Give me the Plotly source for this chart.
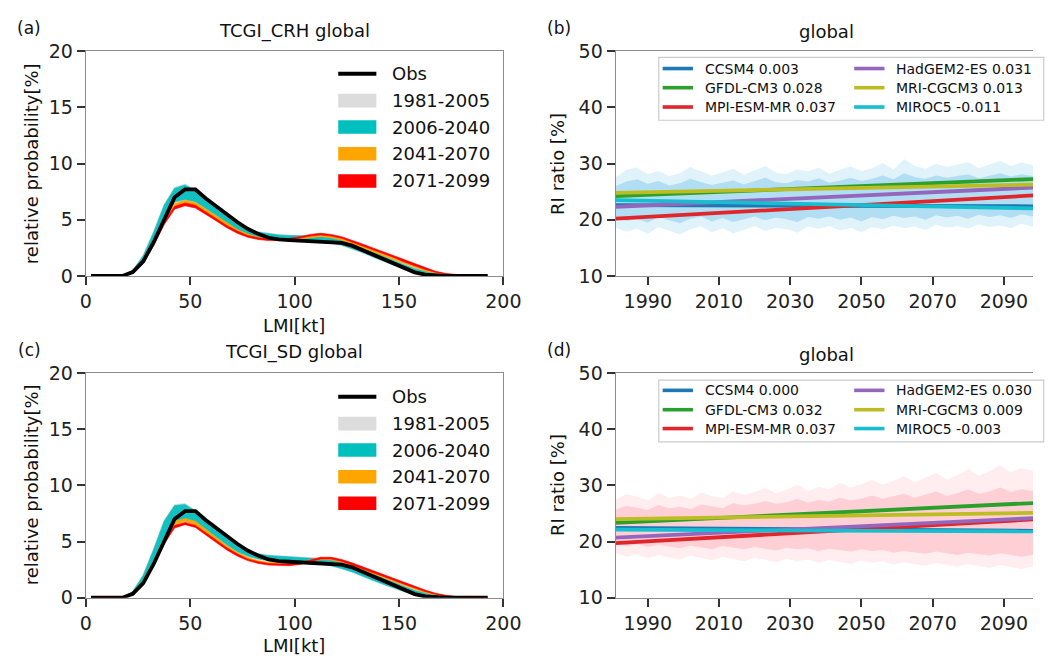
import plotly.graph_objects as go

W, H = 1051, 667

# ---------------- data: panels (a) and (c) ----------------
kt = [2.5, 7.5, 12.5, 17.5, 22.5, 27.5, 32.5, 37.5, 42.5, 47.5, 52.5, 57.5, 62.5,
      67.5, 72.5, 77.5, 82.5, 87.5, 92.5, 97.5, 102.5, 107.5, 112.5, 117.5, 122.5,
      127.5, 132.5, 137.5, 142.5, 147.5, 152.5, 157.5, 162.5, 167.5, 172.5, 177.5,
      182.5, 187.5, 192.5]

obs = [0, 0, 0, 0, 0.35, 1.3, 3.0, 5.0, 7.0, 7.7, 7.7, 6.9, 6.2, 5.4, 4.8, 4.2, 3.75,
       3.4, 3.25, 3.2, 3.15, 3.05, 3.0, 3.0, 2.95, 2.7, 2.3, 1.9, 1.45, 1.05, 0.65,
       0.32, 0.12, 0.03, 0, 0, 0, 0, 0]

# (a) TCGI_CRH
a_grey_lo = [0, 0, 0, 0, 0.28, 1.25, 2.95, 4.95, 6.5, 6.75, 6.55, 5.95, 5.35, 4.65, 4.05, 3.65,
             3.4, 3.25, 3.2, 3.15, 3.1, 3.05, 3.0, 2.9, 2.7, 2.4, 2.05, 1.65, 1.25, 0.9, 0.55,
             0.28, 0.1, 0.03, 0.01, 0, 0, 0, 0]
a_grey_hi = [0, 0, 0, 0, 0.55, 1.9, 4.0, 6.4, 7.9, 8.2, 7.7, 7.0, 6.3, 5.5, 4.85, 4.25,
             3.95, 3.8, 3.7, 3.65, 3.62, 3.58, 3.52, 3.42, 3.22, 2.92, 2.58, 2.18, 1.78,
             1.42, 1.02, 0.67, 0.42, 0.21, 0.09, 0.04, 0.01, 0, 0]
a_teal_lo = [0, 0, 0, 0, 0.3, 1.3, 3.0, 5.0, 6.6, 6.8, 6.6, 6.0, 5.4, 4.7, 4.1, 3.7,
             3.45, 3.3, 3.25, 3.2, 3.15, 3.1, 3.05, 2.95, 2.75, 2.45, 2.1, 1.7, 1.3, 0.95,
             0.6, 0.3, 0.12, 0.04, 0.01, 0, 0, 0, 0]
a_teal_hi = [0, 0, 0, 0, 0.5, 1.8, 3.9, 6.3, 7.8, 8.1, 7.6, 6.9, 6.2, 5.4, 4.8, 4.2,
             3.9, 3.75, 3.65, 3.6, 3.6, 3.55, 3.5, 3.4, 3.2, 2.9, 2.55, 2.15, 1.75, 1.4,
             1.0, 0.65, 0.4, 0.2, 0.08, 0.03, 0, 0, 0]
a_orange_lo = [0, 0, 0, 0, 0.3, 1.2, 2.9, 4.8, 6.2, 6.5, 6.3, 5.7, 5.1, 4.5, 3.95, 3.55,
               3.3, 3.2, 3.15, 3.15, 3.25, 3.4, 3.5, 3.4, 3.2, 2.9, 2.55, 2.2, 1.85, 1.5,
               1.1, 0.75, 0.45, 0.25, 0.12, 0.05, 0.02, 0, 0]
a_orange_hi = [0, 0, 0, 0, 0.4, 1.4, 3.1, 5.1, 6.45, 6.75, 6.55, 5.95, 5.35, 4.75, 4.15,
               3.75, 3.45, 3.35, 3.3, 3.3, 3.4, 3.55, 3.65, 3.55, 3.35, 3.05, 2.7, 2.35,
               2.0, 1.65, 1.25, 0.9, 0.6, 0.35, 0.18, 0.09, 0.04, 0.01, 0]
a_red_lo = [0, 0, 0, 0, 0.25, 1.1, 2.7, 4.55, 5.95, 6.25, 6.05, 5.5, 4.9, 4.3, 3.8, 3.45,
            3.25, 3.15, 3.15, 3.2, 3.35, 3.55, 3.65, 3.55, 3.35, 3.05, 2.7, 2.35, 2.0,
            1.65, 1.25, 0.9, 0.58, 0.32, 0.16, 0.07, 0.03, 0.01, 0]
a_red_hi = [0, 0, 0, 0, 0.35, 1.3, 2.9, 4.8, 6.2, 6.5, 6.3, 5.7, 5.1, 4.5, 4.0, 3.6,
            3.4, 3.3, 3.3, 3.35, 3.5, 3.7, 3.8, 3.7, 3.5, 3.2, 2.85, 2.5, 2.15, 1.8,
            1.4, 1.05, 0.7, 0.42, 0.22, 0.11, 0.05, 0.02, 0]

# (c) TCGI_SD
c_grey_lo = [0, 0, 0, 0, 0.28, 1.25, 3.05, 5.15, 6.7, 6.85, 6.65, 6.05, 5.35, 4.65, 4.05,
             3.65, 3.4, 3.25, 3.2, 3.15, 3.1, 3.05, 2.95, 2.8, 2.55, 2.25, 1.9, 1.5, 1.15,
             0.8, 0.5, 0.25, 0.08, 0.02, 0.01, 0, 0, 0, 0]
c_grey_hi = [0, 0, 0, 0, 0.6, 2.1, 4.4, 6.9, 8.3, 8.4, 7.8, 7.1, 6.4, 5.6, 4.85, 4.25,
             3.95, 3.8, 3.75, 3.7, 3.65, 3.6, 3.55, 3.45, 3.25, 2.95, 2.6, 2.2, 1.8, 1.45,
             1.05, 0.7, 0.45, 0.22, 0.09, 0.04, 0.01, 0, 0]
c_teal_lo = [0, 0, 0, 0, 0.3, 1.3, 3.1, 5.2, 6.8, 6.9, 6.7, 6.1, 5.4, 4.7, 4.1, 3.7,
             3.45, 3.3, 3.25, 3.2, 3.15, 3.1, 3.0, 2.85, 2.6, 2.3, 1.95, 1.55, 1.2, 0.85,
             0.55, 0.28, 0.1, 0.03, 0.01, 0, 0, 0, 0]
c_teal_hi = [0, 0, 0, 0, 0.55, 2.0, 4.3, 6.8, 8.2, 8.3, 7.7, 7.0, 6.3, 5.5, 4.8, 4.2,
             3.9, 3.75, 3.7, 3.65, 3.6, 3.55, 3.5, 3.4, 3.2, 2.9, 2.55, 2.15, 1.75, 1.4,
             1.0, 0.65, 0.4, 0.2, 0.08, 0.03, 0, 0, 0]
c_orange_lo = [0, 0, 0, 0, 0.3, 1.25, 3.0, 5.0, 6.5, 6.8, 6.5, 5.8, 5.1, 4.45, 3.9, 3.45,
               3.15, 3.0, 2.95, 2.95, 3.05, 3.25, 3.4, 3.35, 3.15, 2.85, 2.5, 2.15, 1.8,
               1.45, 1.1, 0.75, 0.45, 0.25, 0.12, 0.05, 0.02, 0, 0]
c_orange_hi = [0, 0, 0, 0, 0.45, 1.5, 3.3, 5.35, 6.8, 7.05, 6.8, 6.05, 5.35, 4.65, 4.05,
               3.6, 3.3, 3.15, 3.1, 3.1, 3.2, 3.4, 3.55, 3.5, 3.3, 3.0, 2.65, 2.3, 1.95,
               1.6, 1.25, 0.9, 0.6, 0.35, 0.18, 0.09, 0.04, 0.01, 0]
c_red_lo = [0, 0, 0, 0, 0.25, 1.15, 2.85, 4.75, 6.2, 6.5, 6.25, 5.6, 4.9, 4.25, 3.7, 3.3,
            3.05, 2.9, 2.85, 2.85, 2.95, 3.2, 3.45, 3.45, 3.25, 2.95, 2.6, 2.25, 1.9,
            1.55, 1.2, 0.85, 0.55, 0.3, 0.15, 0.06, 0.02, 0.01, 0]
c_red_hi = [0, 0, 0, 0, 0.38, 1.35, 3.1, 5.05, 6.45, 6.7, 6.45, 5.8, 5.1, 4.45, 3.9, 3.45,
            3.2, 3.05, 3.0, 3.0, 3.1, 3.35, 3.6, 3.6, 3.4, 3.1, 2.75, 2.4, 2.05, 1.7,
            1.35, 1.0, 0.68, 0.4, 0.21, 0.1, 0.04, 0.02, 0]

period_labels = ["1981-2005", "2006-2040", "2041-2070", "2071-2099"]

# ---------------- data: panels (b) and (d) ----------------
env_years = [1981, 1984, 1987, 1990, 1993, 1996, 1999, 2002, 2005, 2008, 2011, 2014,
             2017, 2020, 2023, 2026, 2029, 2032, 2035, 2038, 2041, 2044, 2047, 2050,
             2053, 2056, 2059, 2062, 2065, 2068, 2071, 2074, 2077, 2080, 2083, 2086,
             2089, 2092, 2095, 2098, 2100]

b_outer_hi = [27.6, 28.9, 29.3, 28.1, 28.7, 27.8, 28.3, 29.4, 28.6, 27.9, 28.4, 29.1,
              28.0, 28.8, 29.6, 28.4, 28.1, 29.0, 28.6, 29.3, 28.2, 28.9, 29.5, 28.7,
              29.2, 30.1, 29.0, 30.8, 29.6, 29.1, 30.0, 29.4, 29.8, 30.3, 29.2, 29.9,
              30.5, 29.6, 30.2, 29.7, 30.0]
b_outer_lo = [18.6, 17.9, 18.4, 17.5, 18.7, 18.1, 17.4, 18.3, 18.8, 17.8, 18.5, 17.6,
              18.2, 18.9, 18.0, 18.6, 18.3, 17.7, 18.8, 18.4, 18.9, 18.1, 18.6, 17.8,
              18.7, 18.3, 19.0, 18.5, 18.8, 18.2, 19.1, 18.6, 18.9, 18.4, 19.2, 18.7,
              19.0, 18.5, 19.3, 18.8, 19.0]
b_inner_hi = [26.0, 26.8, 27.2, 26.4, 26.9, 26.1, 26.5, 27.3, 26.7, 26.2, 26.6, 27.0,
              26.3, 26.9, 27.5, 26.7, 26.5, 27.1, 26.8, 27.4, 26.6, 27.0, 27.5, 26.9,
              27.3, 27.9, 27.2, 28.3, 27.6, 27.3, 27.9, 27.5, 27.8, 28.1, 27.4, 27.9,
              28.3, 27.7, 28.1, 27.8, 28.0]
b_inner_lo = [20.4, 19.8, 20.1, 19.5, 20.5, 20.0, 19.4, 20.2, 20.6, 19.7, 20.3, 19.6,
              20.1, 20.6, 19.9, 20.4, 20.1, 19.6, 20.5, 20.2, 20.6, 20.0, 20.4, 19.7,
              20.5, 20.1, 20.7, 20.3, 20.6, 20.0, 20.8, 20.4, 20.7, 20.2, 20.9, 20.5,
              20.8, 20.3, 21.0, 20.6, 20.8]

d_outer_hi = [27.5, 28.4, 28.0, 27.3, 28.6, 27.8, 28.2, 27.6, 28.7, 28.1, 27.7, 28.9,
              28.3, 28.8, 29.5, 28.6, 29.2, 30.1, 29.0, 29.7, 29.3, 30.4, 29.6, 30.2,
              31.0, 30.1, 30.8, 31.6, 30.5, 31.3, 32.2, 31.0, 31.8, 32.9, 31.7, 32.5,
              33.6, 32.3, 33.1, 32.6, 33.2]
d_outer_lo = [17.9, 17.3, 17.7, 17.0, 17.6, 17.2, 16.8, 17.5, 17.1, 16.6, 17.3, 16.9,
              16.5, 17.1, 16.7, 16.3, 16.9, 16.5, 16.8, 16.2, 16.7, 16.4, 16.0, 16.6,
              16.2, 16.5, 15.9, 16.3, 16.0, 15.7, 16.2, 15.8, 15.5, 16.0, 15.6, 15.3,
              15.8, 15.4, 15.1, 15.5, 15.3]
d_inner_hi = [25.7, 26.3, 26.0, 25.6, 26.5, 25.9, 26.2, 25.8, 26.6, 26.2, 25.9, 26.8,
              26.4, 26.7, 27.2, 26.7, 27.0, 27.6, 26.9, 27.4, 27.1, 27.8, 27.3, 27.6,
              28.2, 27.6, 28.0, 28.5, 27.8, 28.3, 28.9, 28.1, 28.6, 29.3, 28.5, 28.9,
              29.6, 28.8, 29.3, 29.0, 29.2]
d_inner_lo = [19.7, 19.2, 19.5, 19.0, 19.4, 19.1, 18.8, 19.3, 19.0, 18.6, 19.2, 18.9,
              18.6, 19.0, 18.7, 18.4, 18.9, 18.6, 18.8, 18.3, 18.7, 18.5, 18.2, 18.6,
              18.3, 18.5, 18.0, 18.3, 18.1, 17.8, 18.2, 17.9, 17.6, 18.0, 17.7, 17.5,
              17.9, 17.6, 17.3, 17.6, 17.5]

trend_years = [1981, 2100]
models = ["CCSM4", "GFDL-CM3", "MPI-ESM-MR", "HadGEM2-ES", "MRI-CGCM3", "MIROC5"]
b_slopes = ["0.003", "0.028", "0.037", "0.031", "0.013", "-0.011"]
d_slopes = ["0.000", "0.032", "0.037", "0.030", "0.009", "-0.003"]
b_trend = [[22.6, 22.4], [24.2, 27.3], [20.2, 24.4], [22.3, 25.8], [24.8, 26.3], [23.5, 22.0]]
d_trend = [[22.4, 21.9], [23.3, 26.9], [19.7, 24.0], [20.7, 24.2], [24.0, 25.1], [22.1, 21.8]]

lmi_ticks = [0, 50, 100, 150, 200]
yr_ticks = [1990, 2010, 2030, 2050, 2070, 2090]

# ---------------- styles ----------------
FONT = "DejaVu Sans"
model_colors = ["#1f77b4", "#2ca02c", "#e0262a", "#9467bd", "#bcbd22", "#17becf"]
band_colors = ["rgba(215,215,215,0.9)", "rgba(0,191,191,0.92)", "rgba(255,165,0,1)", "rgba(255,0,0,1)"]
legend_patch = ["#dcdcdc", "#00bfbf", "#ffa500", "#ff0000"]


def px(p):
    return p / W


def py(p):
    return 1 - p / H


fig = go.Figure()


def band(xs, lo, hi, color, xa, ya, lw=0.6):
    fig.add_trace(go.Scatter(
        x=list(xs) + list(xs)[::-1], y=list(hi) + list(lo)[::-1],
        fill="toself", fillcolor=color, mode="lines",
        line=dict(width=lw, color=color), xaxis=xa, yaxis=ya,
        hoverinfo="skip", showlegend=False))


# panel (a)
for lo, hi, col in [(a_grey_lo, a_grey_hi, band_colors[0]), (a_teal_lo, a_teal_hi, band_colors[1]),
                    (a_orange_lo, a_orange_hi, band_colors[2]), (a_red_lo, a_red_hi, band_colors[3])]:
    band(kt, lo, hi, col, "x", "y")
fig.add_trace(go.Scatter(x=kt, y=obs, mode="lines", line=dict(color="black", width=3.8),
                         xaxis="x", yaxis="y", showlegend=False))

# panel (c)
for lo, hi, col in [(c_grey_lo, c_grey_hi, band_colors[0]), (c_teal_lo, c_teal_hi, band_colors[1]),
                    (c_orange_lo, c_orange_hi, band_colors[2]), (c_red_lo, c_red_hi, band_colors[3])]:
    band(kt, lo, hi, col, "x3", "y3")
fig.add_trace(go.Scatter(x=kt, y=obs, mode="lines", line=dict(color="black", width=3.8),
                         xaxis="x3", yaxis="y3", showlegend=False))

# panel (b)
band(env_years, b_outer_lo, b_outer_hi, "rgba(135,206,235,0.25)", "x2", "y2", 0)
band(env_years, b_inner_lo, b_inner_hi, "rgba(120,198,232,0.45)", "x2", "y2", 0)
for vals, col in zip(b_trend, model_colors):
    fig.add_trace(go.Scatter(x=trend_years, y=vals, mode="lines", line=dict(color=col, width=3.8),
                             xaxis="x2", yaxis="y2", showlegend=False))

# panel (d)
band(env_years, d_outer_lo, d_outer_hi, "rgba(255,182,193,0.25)", "x4", "y4", 0)
band(env_years, d_inner_lo, d_inner_hi, "rgba(255,182,193,0.55)", "x4", "y4", 0)
for vals, col in zip(d_trend, model_colors):
    fig.add_trace(go.Scatter(x=trend_years, y=vals, mode="lines", line=dict(color=col, width=3.8),
                             xaxis="x4", yaxis="y4", showlegend=False))

# ---------------- axes ----------------
axis_common = dict(showline=True, linecolor="#8c8c8c", linewidth=1.3, ticks="outside",
                   ticklen=8, tickwidth=1.6, tickcolor="#333333", showgrid=False, zeroline=False,
                   tickfont=dict(family=FONT, size=19, color="#222222"), fixedrange=True)

xa_dom_left = [px(81.7), px(509)]
xa_dom_right = [px(624), 1.0]
ya_dom_top = [py(274), py(41.7)]
ya_dom_bot = [py(606.7), py(374.3)]
yr_range = [1981.0, 2098.2]

fig.update_layout(
    xaxis=dict(domain=xa_dom_left, range=[0, 200], tickvals=lmi_ticks, mirror=True, anchor="y", **axis_common),
    yaxis=dict(domain=ya_dom_top, range=[0, 20], tickvals=[0, 5, 10, 15, 20], mirror=True, anchor="x", **axis_common),
    xaxis2=dict(domain=xa_dom_right, range=yr_range, tickvals=yr_ticks, mirror=True, anchor="y2", **axis_common),
    yaxis2=dict(domain=ya_dom_top, range=[10, 50], tickvals=[10, 20, 30, 40, 50], mirror=False, anchor="x2", **axis_common),
    xaxis3=dict(domain=xa_dom_left, range=[0, 200], tickvals=lmi_ticks, mirror=True, anchor="y3", **axis_common),
    yaxis3=dict(domain=ya_dom_bot, range=[0, 20], tickvals=[0, 5, 10, 15, 20], mirror=True, anchor="x3", **axis_common),
    xaxis4=dict(domain=xa_dom_right, range=yr_range, tickvals=yr_ticks, mirror=True, anchor="y4", **axis_common),
    yaxis4=dict(domain=ya_dom_bot, range=[10, 50], tickvals=[10, 20, 30, 40, 50], mirror=False, anchor="x4", **axis_common),
)

annotations = []
shapes = []


def text(x, y, s, size=18, xanchor="center", angle=0, color="#111111"):
    annotations.append(dict(x=px(x), y=py(y), xref="paper", yref="paper", text=s, showarrow=False,
                            xanchor=xanchor, yanchor="middle", textangle=angle,
                            font=dict(family=FONT, size=size, color=color)))


# titles and labels
text(24, 18, "(a)", 17)
text(295, 21, "TCGI_CRH global", 18)
text(566, 18, "(b)", 17)
text(840, 21, "global", 18)
text(24, 351, "(c)", 17)
text(295, 353, "TCGI_SD global", 18)
text(566, 351, "(d)", 17)
text(840, 355, "global", 18)
text(295, 325, "LMI[kt]", 18)
text(295, 656, "LMI[kt]", 18)
text(26, 158, "relative probability[%]", 18, angle=-90)
text(26, 490, "relative probability[%]", 18, angle=-90)
text(565, 158, "RI ratio [%]", 18, angle=-90)
text(565, 490, "RI ratio [%]", 18, angle=-90)


# legends for (a)/(c)
def lmi_legend(ys):
    shapes.append(dict(type="line", xref="paper", yref="paper", x0=px(340), x1=px(379),
                       y0=py(ys[0]), y1=py(ys[0]), line=dict(color="black", width=4)))
    text(393, ys[0], "Obs", 18, xanchor="left")
    for yy, lab, col in zip(ys[1:], period_labels, legend_patch):
        shapes.append(dict(type="rect", xref="paper", yref="paper", x0=px(340), x1=px(379),
                           y0=py(yy + 7), y1=py(yy - 7), fillcolor=col, line=dict(width=0)))
        text(393, yy, lab, 18, xanchor="left")


lmi_legend([65, 92.7, 120, 147.7, 175.7])
lmi_legend([399, 426.7, 454, 481.7, 509])


# legends for (b)/(d)
def model_legend(top, bottom, ys, slopes):
    shapes.append(dict(type="rect", xref="paper", yref="paper", x0=px(668), x1=px(1062),
                       y0=py(bottom), y1=py(top), fillcolor="rgba(255,255,255,0.85)",
                       line=dict(color="#cccccc", width=1.2)))
    for i, (name, sl, col) in enumerate(zip(models, slopes, model_colors)):
        col_i, row_i = (0, i) if i < 3 else (1, i - 3)
        x0 = 672 if col_i == 0 else 868
        yy = ys[row_i]
        shapes.append(dict(type="line", xref="paper", yref="paper", x0=px(x0), x1=px(x0 + 31),
                           y0=py(yy), y1=py(yy), line=dict(color=col, width=3.6)))
        text(x0 + 41, yy, f"{name} {sl}", 14, xanchor="left")


model_legend(48, 113, [59.5, 79.3, 99.3], b_slopes)
model_legend(381.7, 445.5, [392.3, 412.3, 431.8], d_slopes)

fig.update_layout(
    width=W, height=H, autosize=False,
    margin=dict(l=0, r=0, t=0, b=0),
    paper_bgcolor="white", plot_bgcolor="white",
    showlegend=False,
    annotations=annotations, shapes=shapes,
    font=dict(family=FONT),
)

fig.write_html("out.html")
